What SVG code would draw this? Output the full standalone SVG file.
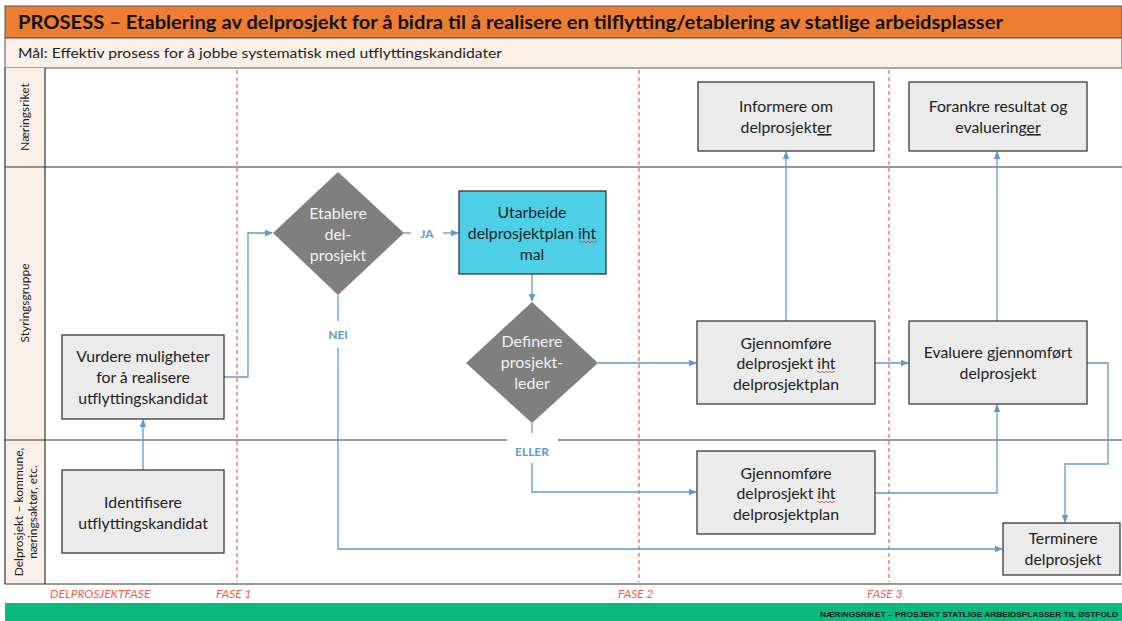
<svg xmlns="http://www.w3.org/2000/svg" width="1122" height="621" viewBox="0 0 1122 621">
<style>
.t{font-family:Lato,"Open Sans","Liberation Sans",sans-serif;font-size:15.8px;fill:#222;text-anchor:middle}
.w{fill:#f2f2f2;font-size:16px}
.box{fill:#ebebeb;stroke:#2b2b2b;stroke-width:1.2}
.dia{fill:#7f7f7f}
.lane{stroke:#333;stroke-width:1.2;fill:none}
.ph{stroke:#f4603e;stroke-width:1.2;stroke-dasharray:4 3;fill:none}
.phl{font-family:Lato,"Liberation Sans",sans-serif;font-style:italic;font-size:12px;fill:#f4603e}
.c{stroke:#5b9bd5;stroke-width:1.3;fill:none}
.a{marker-end:url(#ah)}
.lbl{font-family:Lato,"Liberation Sans",sans-serif;font-weight:bold;font-size:12px;fill:#5b9bd5;text-anchor:middle}
.ll{font-family:Lato,"Liberation Sans",sans-serif;font-size:12px;fill:#222;text-anchor:middle}
.sq{stroke:#e03030;stroke-width:0.8;fill:none}
</style>
<defs>
<marker id="ah" markerWidth="8" markerHeight="8" refX="7" refY="4" orient="auto" markerUnits="userSpaceOnUse">
<path d="M0,0.8 L8,4 L0,7.2 Z" fill="#5b9bd5"/>
</marker>
</defs>
<rect width="1122" height="621" fill="#fff"/>
<g id="header">
<rect x="5" y="6" width="1117" height="32" fill="#ed7d31" stroke="#555" stroke-width="1"/>
<text x="18" y="29" font-family="Lato,'Liberation Sans',sans-serif" font-weight="bold" font-size="19" fill="#111" textLength="985" lengthAdjust="spacingAndGlyphs">PROSESS – Etablering av delprosjekt for å bidra til å realisere en tilflytting/etablering av statlige arbeidsplasser</text>
<rect x="5" y="38" width="1117" height="30" fill="#fbf0e8" stroke="#555" stroke-width="1"/>
<text x="18" y="58" font-family="Lato,'Liberation Sans',sans-serif" font-size="14" fill="#222" textLength="484" lengthAdjust="spacingAndGlyphs">Mål: Effektiv prosess for å jobbe systematisk med utflyttingskandidater</text>
</g>
<g id="lanes">
<rect x="5" y="68" width="40" height="516" fill="#fbf0e8"/>
<line class="lane" x1="5" y1="68" x2="5" y2="584"/>
<line class="lane" x1="45" y1="68" x2="45" y2="584"/>
<line class="lane" x1="5" y1="167" x2="1122" y2="167"/>
<line class="lane" x1="5" y1="440" x2="1122" y2="440"/>
<line class="lane" x1="5" y1="584" x2="1122" y2="584" stroke-width="1.6"/>
<text class="ll" transform="translate(29,117) rotate(-90)">Næringsriket</text>
<text class="ll" transform="translate(29,303) rotate(-90)">Styringsgruppe</text>
<text class="ll" transform="translate(23,512) rotate(-90)">Delprosjekt – kommune,</text>
<text class="ll" transform="translate(37,512) rotate(-90)">næringsaktør, etc.</text>
</g>
<g id="phases">
<line class="ph" x1="237" y1="70" x2="237" y2="582"/>
<line class="ph" x1="639" y1="70" x2="639" y2="582"/>
<line class="ph" x1="889" y1="70" x2="889" y2="582"/>
<text class="phl" x="50" y="598">DELPROSJEKTFASE</text>
<text class="phl" x="216" y="598">FASE 1</text>
<text class="phl" x="618" y="598">FASE 2</text>
<text class="phl" x="867" y="598">FASE 3</text>
</g>
<g id="connectors">
<path class="c a" d="M143,470 V420"/>
<path class="c a" d="M224,377 H248 V233 H272"/>
<path class="c" d="M404,233 H411"/>
<path class="c a" d="M443,233 H458"/>
<text class="lbl" x="427" y="238">JA</text>
<path class="c a" d="M532,274 V301"/>
<path class="c a" d="M598,363 H696"/>
<path class="c" d="M532,423 V433"/>
<rect x="507" y="436" width="51" height="8" fill="#fff"/>
<text class="lbl" x="532" y="456">ELLER</text>
<path class="c a" d="M532,463 V492 H696"/>
<path class="c" d="M338,295 V321"/>
<text class="lbl" x="338" y="339">NEI</text>
<path class="c a" d="M338,348 V549 H1002"/>
<path class="c a" d="M786,321 V152"/>
<path class="c a" d="M875,363 H908"/>
<path class="c a" d="M997,321 V152"/>
<path class="c a" d="M875,493 H997 V405"/>
<path class="c a" d="M1087,363 H1108 V464 H1065 V522"/>
</g>
<g id="informere">
<rect class="box" x="698" y="82" width="176" height="69"/>
<text class="t" x="786" y="112">Informere om</text>
<text class="t" x="786" y="133">delprosjekt<tspan text-decoration="underline">er</tspan></text>
</g>
<g id="forankre">
<rect class="box" x="909" y="82" width="178" height="69"/>
<text class="t" x="998" y="112">Forankre resultat og</text>
<text class="t" x="998" y="133">evaluering<tspan text-decoration="underline">er</tspan></text>
</g>
<g id="vurdere">
<rect class="box" x="62" y="335" width="162" height="84"/>
<text class="t" x="143" y="362">Vurdere muligheter</text>
<text class="t" x="143" y="383">for å realisere</text>
<text class="t" x="143" y="404">utflyttingskandidat</text>
</g>
<g id="identifisere">
<rect class="box" x="62" y="470" width="162" height="83"/>
<text class="t" x="143" y="508">Identifisere</text>
<text class="t" x="143" y="529">utflyttingskandidat</text>
</g>
<g id="etablere">
<polygon class="dia" points="338,172 404,233 338,295 273,233"/>
<text class="t w" x="338" y="219">Etablere</text>
<text class="t w" x="338" y="240">del-</text>
<text class="t w" x="338" y="261">prosjekt</text>
</g>
<g id="utarbeide">
<rect x="459" y="191" width="147" height="83" fill="#4ecfe8" stroke="#2b2b2b" stroke-width="1.2"/>
<text class="t" x="532" y="218">Utarbeide</text>
<text class="t" x="532" y="239">delprosjektplan iht</text>
<text class="t" x="532" y="260">mal</text>
<path class="sq" d="M579,242 q1,-1.5 2,0 t2,0 t2,0 t2,0 t2,0 t2,0 t2,0 t2,0 t2,0"/>
</g>
<g id="definere">
<polygon class="dia" points="532,302 598,363 532,423 466,363"/>
<text class="t w" x="532" y="347">Definere</text>
<text class="t w" x="532" y="368">prosjekt-</text>
<text class="t w" x="532" y="389">leder</text>
</g>
<g id="gjennomfore1">
<rect class="box" x="697" y="321" width="178" height="83"/>
<text class="t" x="786" y="349">Gjennomføre</text>
<text class="t" x="786" y="369">delprosjekt iht</text>
<text class="t" x="786" y="390">delprosjektplan</text>
<path class="sq" d="M817,372 q1,-1.5 2,0 t2,0 t2,0 t2,0 t2,0 t2,0 t2,0 t2,0 t2,0"/>
</g>
<g id="evaluere">
<rect class="box" x="909" y="321" width="178" height="83"/>
<text class="t" x="998" y="358">Evaluere  gjennomført</text>
<text class="t" x="998" y="379">delprosjekt</text>
</g>
<g id="gjennomfore2">
<rect class="box" x="697" y="451" width="178" height="83"/>
<text class="t" x="786" y="479">Gjennomføre</text>
<text class="t" x="786" y="499">delprosjekt iht</text>
<text class="t" x="786" y="520">delprosjektplan</text>
<path class="sq" d="M817,502 q1,-1.5 2,0 t2,0 t2,0 t2,0 t2,0 t2,0 t2,0 t2,0 t2,0"/>
</g>
<g id="terminere">
<rect class="box" x="1003" y="523" width="117" height="52"/>
<text class="t" x="1063" y="544">Terminere</text>
<text class="t" x="1063" y="565">delprosjekt</text>
</g>
<g id="footer">
<rect x="5" y="603" width="1117" height="18" fill="#0bba7e"/>
<text x="1118" y="617" text-anchor="end" font-family="'Liberation Sans',sans-serif" font-size="8" font-weight="bold" fill="#1a1a1a" textLength="298" lengthAdjust="spacingAndGlyphs">NÆRINGSRIKET – PROSJEKT STATLIGE ARBEIDSPLASSER TIL ØSTFOLD</text>
</g>
</svg>
